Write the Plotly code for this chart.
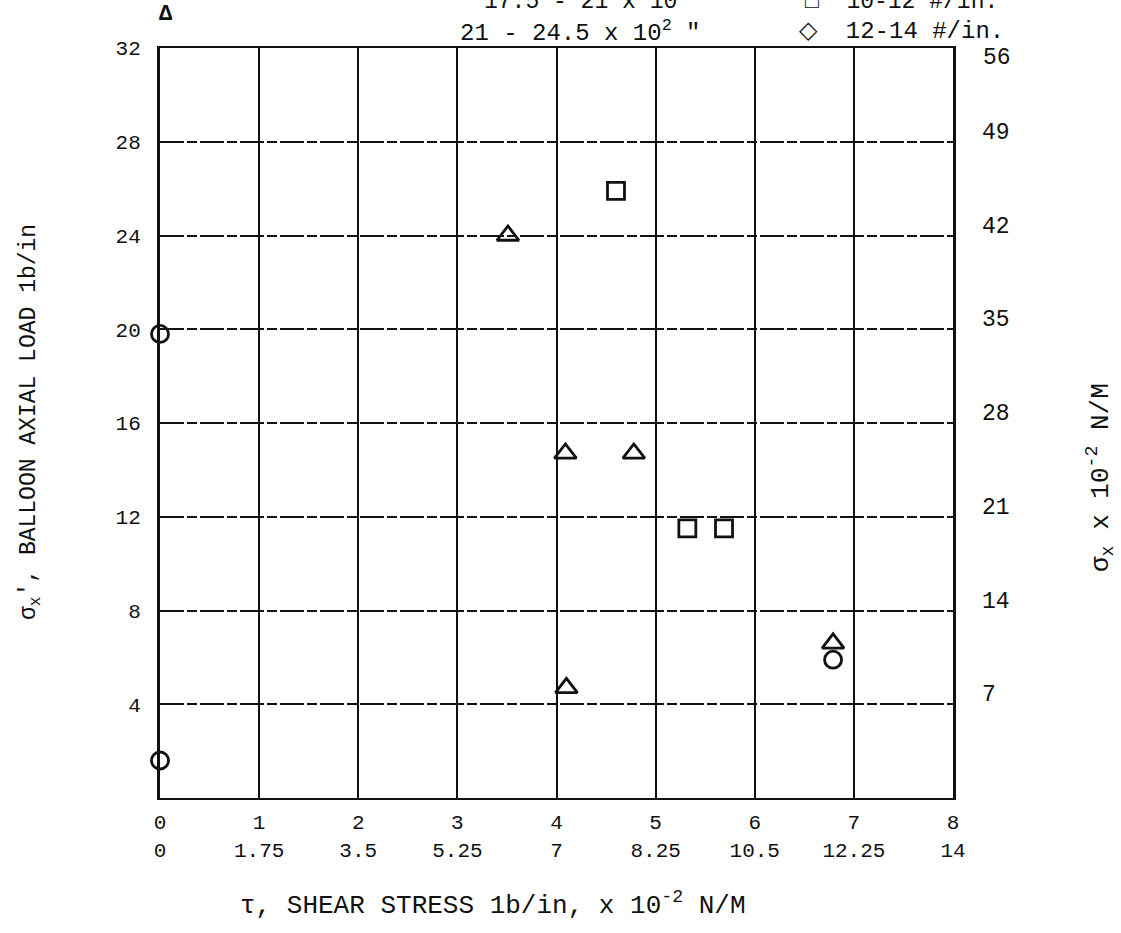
import plotly.graph_objects as go

# data (x: shear stress lb/in, y: axial load lb/in)
circle_x = [0.0, 0.0, 6.79, 8.31]
circle_y = [19.8, 1.6, 5.9, 8.9]
triangle_x = [3.51, 4.09, 4.78, 4.10, 6.79]
triangle_y = [24.0, 14.7, 14.7, 4.7, 6.6]
square_x = [4.60, 5.32, 5.69]
square_y = [25.9, 11.5, 11.5]
diamond_x = [8.16]
diamond_y = [8.45]

x_ticks = [0, 1, 2, 3, 4, 5, 6, 7, 8]
x_ticks_si = ["0", "1.75", "3.5", "5.25", "7", "8.25", "10.5", "12.25", "14"]
y_ticks = [4, 8, 12, 16, 20, 24, 28, 32]
y2_ticks = [7, 14, 21, 28, 35, 42, 49]

FONT = "Liberation Mono"
INK = "#111111"

W, H = 1121, 933
L, R, T, B = 160, 168, 48, 135

fig = go.Figure()

series = [
    (circle_x, circle_y, "circle-open", 17),
    (triangle_x, triangle_y, "triangle-up-open", 19),
    (square_x, square_y, "square-open", 17),
    (diamond_x, diamond_y, "diamond-open", 22),
]
for xs, ys, sym, sz in series:
    fig.add_trace(go.Scatter(
        x=xs, y=ys, mode="markers", cliponaxis=False, showlegend=False,
        marker=dict(symbol=sym, size=sz, color=INK, line=dict(color=INK, width=2.8)),
    ))

# invisible trace to carry the right (SI) axis
fig.add_trace(go.Scatter(x=[0], y=[0], yaxis="y2", mode="markers",
                         marker=dict(opacity=0), showlegend=False, hoverinfo="skip"))

fig.update_layout(
    width=W, height=H,
    paper_bgcolor="white", plot_bgcolor="white",
    font=dict(family=FONT, size=21, color=INK),
    margin=dict(l=L, r=R, t=T, b=B),
    xaxis=dict(
        range=[0, 8], tickvals=x_ticks,
        ticktext=[f"{a}<br>{b}" for a, b in zip(x_ticks, x_ticks_si)],
        showgrid=True, gridcolor=INK, gridwidth=2,
        showline=True, linecolor=INK, linewidth=2, mirror=True,
        zeroline=False, ticks="", ticklabelstandoff=4,
        tickfont=dict(family=FONT, size=21),
    ),
    yaxis=dict(
        range=[0, 32], tickvals=y_ticks,
        showgrid=True, gridcolor=INK, gridwidth=1.5, griddash="24px,3px,10px,3px",
        showline=True, linecolor=INK, linewidth=3, mirror=True,
        zeroline=False, ticks="", ticklabelstandoff=12,
        tickfont=dict(family=FONT, size=21),
    ),
    # the SI labels were typed a little above the grid lines
    yaxis2=dict(
        range=[-0.82, 55.18], tickvals=y2_ticks, overlaying="y", side="right",
        showgrid=False, zeroline=False, showline=False, ticks="",
        ticklabelstandoff=28, tickfont=dict(family=FONT, size=23),
    ),
)

# positions in reference-image pixels
annotations = [
    dict(x=30, y=422, text="σ<sub>x</sub>', BALLOON AXIAL LOAD 1b/in", textangle=-90, size=23),
    dict(x=1100, y=478, text="σ<sub>x</sub> x 10<sup>-2</sup> N/M", textangle=-90, size=26),
    dict(x=493, y=904, text="τ, SHEAR STRESS 1b/in, x 10<sup>-2</sup> N/M", size=26),
    dict(x=997, y=58, text="56", size=23),
    # partial legend at top (cut off in the original scan)
    dict(x=580, y=2, text="17.5 - 21 x 10", size=23),
    dict(x=580, y=31, text="21 - 24.5 x 10<sup>2</sup> \"", size=24),
    dict(x=901, y=2, text="□  10-12 #/in.", size=23),
    dict(x=901, y=31, text="◇  12-14 #/in.", size=24),
    dict(x=166, y=14, text="<b>Δ</b>", size=22),
]
pw, ph = W - L - R, H - T - B
out = []
for a in annotations:
    px_, py_ = a.pop("x"), a.pop("y")
    size = a.pop("size", 21)
    a["x"] = (px_ - L) / pw
    a["y"] = (H - B - py_) / ph
    a.update(xref="paper", yref="paper", showarrow=False,
             font=dict(family=FONT, size=size, color=INK),
             xanchor="center", yanchor="middle")
    out.append(a)
fig.update_layout(annotations=out)

# drop the default page margin so the figure sits at the window corner
fig.write_html("out.html", config={"displayModeBar": False},
               post_script="document.body.style.margin='0';")
